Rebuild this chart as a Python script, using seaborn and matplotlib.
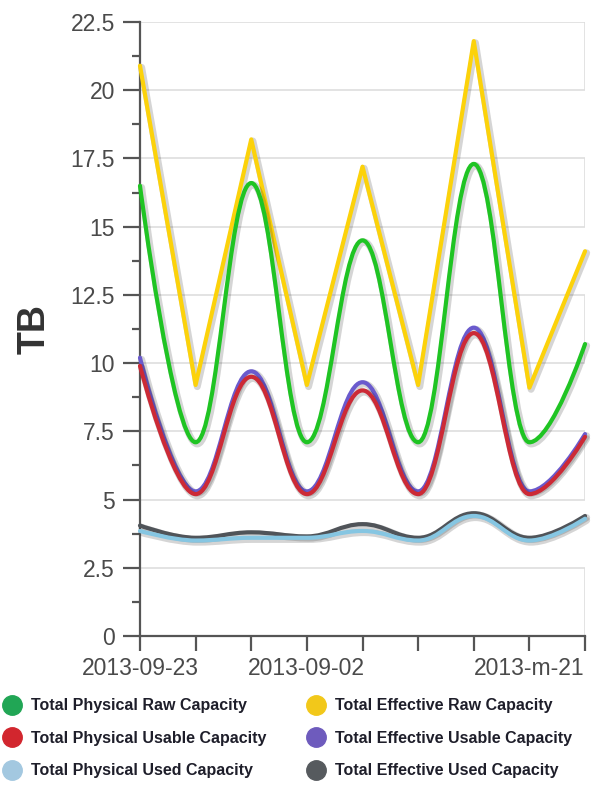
import numpy as np
import pandas as pd
import seaborn as sns
import matplotlib.pyplot as plt
from matplotlib.path import Path
from matplotlib.patches import PathPatch
from matplotlib.lines import Line2D
import matplotlib.patheffects as pe

# values (TB)
dates = ["2013-09-23", "", "", "2013-09-02", "", "", "", "2013-m-21", ""]
phys_raw = [16.5, 7.1, 16.6, 7.1, 14.5, 7.1, 17.3, 7.1, 10.7]
phys_usable = [9.9, 5.2, 9.5, 5.2, 9.0, 5.2, 11.1, 5.2, 7.3]
phys_used = [3.85, 3.5, 3.6, 3.6, 3.85, 3.5, 4.4, 3.5, 4.3]
eff_raw = [20.9, 9.2, 18.2, 9.2, 17.2, 9.2, 21.8, 9.1, 14.1]
eff_usable = [10.2, 5.3, 9.7, 5.3, 9.3, 5.3, 11.3, 5.3, 7.4]
eff_used = [4.05, 3.6, 3.8, 3.65, 4.1, 3.6, 4.5, 3.6, 4.4]

names = ["Total Physical Raw Capacity", "Total Physical Usable Capacity",
         "Total Physical Used Capacity", "Total Effective Raw Capacity",
         "Total Effective Usable Capacity", "Total Effective Used Capacity"]
line_colors = ["#1fc423", "#cc2a36", "#86c6e2", "#fcd20a", "#6a5acd", "#505459"]
dot_colors = ["#21a655", "#d2262e", "#a3c8e0", "#f2c81a", "#6e5bbd", "#565a5e"]

x = np.arange(len(dates))
df = pd.DataFrame({"x": x, "eff_raw": eff_raw})

sns.set_theme(style="white")
plt.rcParams["font.family"] = ["Liberation Sans", "DejaVu Sans"]

fig = plt.figure(figsize=(6.07, 7.86), dpi=100)
ax = fig.add_axes([0.2306, 0.1908, 0.7332, 0.7812])

shadow = [pe.SimpleLineShadow(offset=(1.2, -1.2), shadow_color="k", alpha=0.18, linewidth=5),
          pe.Normal()]


def spline_path(xs, ys):
    # highcharts-like spline: bezier control points from neighbours
    n = len(xs)
    left = [(xs[i], ys[i]) for i in range(n)]
    right = [(xs[i], ys[i]) for i in range(n)]
    for i in range(1, n - 1):
        px, py = xs[i], ys[i]
        lx, ly = xs[i - 1], ys[i - 1]
        nx, ny = xs[i + 1], ys[i + 1]
        lcx = (1.5 * px + lx) / 2.5
        lcy = (1.5 * py + ly) / 2.5
        rcx = (1.5 * px + nx) / 2.5
        rcy = (1.5 * py + ny) / 2.5
        corr = (rcy - lcy) * (rcx - px) / (rcx - lcx) + py - rcy
        lcy += corr
        rcy += corr
        if lcy > ly and lcy > py:
            lcy = max(ly, py)
            rcy = 2 * py - lcy
        elif lcy < ly and lcy < py:
            lcy = min(ly, py)
            rcy = 2 * py - lcy
        if rcy > ny and rcy > py:
            rcy = max(ny, py)
            lcy = 2 * py - rcy
        elif rcy < ny and rcy < py:
            rcy = min(ny, py)
            lcy = 2 * py - rcy
        left[i] = (lcx, lcy)
        right[i] = (rcx, rcy)
    verts = [(xs[0], ys[0])]
    codes = [Path.MOVETO]
    for i in range(1, n):
        verts += [right[i - 1], left[i], (xs[i], ys[i])]
        codes += [Path.CURVE4] * 3
    return Path(verts, codes)


# alternating outlined bands instead of plain grid
for lo in np.arange(0, 22.5, 5):
    ax.axhspan(lo, lo + 2.5, fill=False, edgecolor="#dedede", lw=1.2, zorder=0)

# effective raw is drawn straight
sns.lineplot(data=df, x="x", y="eff_raw", ax=ax, color=line_colors[3], lw=3,
             clip_on=False, path_effects=shadow, zorder=3)

series = [(eff_usable, 4), (eff_used, 5), (phys_raw, 0), (phys_usable, 1), (phys_used, 2)]
for vals, k in series:
    patch = PathPatch(spline_path(list(x), vals), fill=False, edgecolor=line_colors[k],
                      lw=3, clip_on=False, path_effects=shadow, zorder=3,
                      capstyle="round", joinstyle="round")
    ax.add_patch(patch)

ax.set_xlim(0, 8)
ax.set_ylim(0, 22.5)
ax.set_xticks(x)
ax.set_xticklabels(dates)
ax.set_yticks(np.arange(0, 22.6, 2.5))
ax.set_yticklabels(["0", "2.5", "5", "7.5", "10", "12.5", "15", "17.5", "20", "22.5"])
ax.set_yticks(np.arange(1.25, 22.5, 2.5), minor=True)
ax.set_xlabel("")
ax.set_ylabel("TB", fontsize=27, fontweight="bold", color="#333333", labelpad=13)

for s in ["top", "right"]:
    ax.spines[s].set_visible(False)
for s in ["left", "bottom"]:
    ax.spines[s].set_color("#555555")
    ax.spines[s].set_linewidth(1.6)
ax.tick_params(axis="both", which="major", direction="out", length=12, width=1.6,
               color="#555555", labelsize=16.5, labelcolor="#4a4a4a", pad=6)
ax.tick_params(axis="y", which="minor", direction="out", length=6, width=1.6,
               color="#555555", left=True)
ax.tick_params(axis="x", which="major", length=11, bottom=True, pad=4)
ax.tick_params(axis="y", left=True)

handles = [Line2D([], [], marker="o", linestyle="", markersize=14,
                  markerfacecolor=c, markeredgecolor=c) for c in dot_colors]
fig.legend(handles, names, ncol=2, loc="upper left", bbox_to_anchor=(-0.02, 0.13),
           frameon=False, handletextpad=0.6, columnspacing=2.5, labelspacing=1.1,
           handlelength=1.2, prop={"family": "Liberation Sans", "weight": "bold", "size": 11.5},
           labelcolor="#1e1e2a")

fig.savefig("out.png", dpi=100)
